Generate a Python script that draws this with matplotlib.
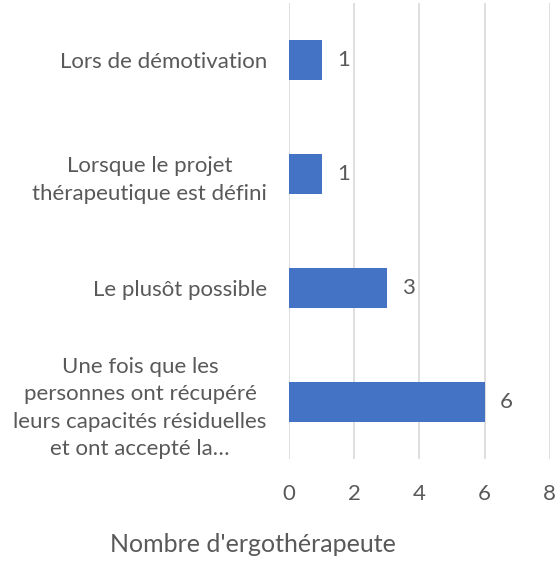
import matplotlib
matplotlib.use('Agg')

import matplotlib.pyplot as plt

categories = [
    "Une fois que les\npersonnes ont récupéré\nleurs capacités résiduelles\net ont accepté la…",
    "Le plusôt possible",
    "Lorsque le projet\nthérapeutique est défini",
    "Lors de démotivation",
]
values = [6, 3, 1, 1]
x_ticks = [0, 2, 4, 6, 8]

text_color = '#595959'
plt.rcParams['font.family'] = ['Lato', 'DejaVu Sans']

fig = plt.figure(figsize=(5.57, 5.83), dpi=100)
ax = fig.add_axes([0.519, 0.212, 0.468, 0.783])

pos = list(range(len(categories)))
ax.barh(pos, values, height=0.35, color='#4472C4', zorder=3)
for p, v in zip(pos, values):
    ax.annotate(str(v), (v, p), xytext=(11, 0), textcoords='offset points',
                va='center', ha='left', fontsize=16, color=text_color)

ax.set_xlim(0, 8)
ax.set_ylim(-0.5, len(categories) - 0.5)
ax.set_xticks(x_ticks)
ax.set_yticks(pos)
ax.set_yticklabels(categories, linespacing=1.47)
ax.tick_params(axis='both', length=0, labelsize=16, colors=text_color)
ax.tick_params(axis='x', pad=18)
ax.tick_params(axis='y', pad=16)
for lab in ax.get_yticklabels():
    lab.set_horizontalalignment('right')
    lab.set_multialignment('center')
ax.grid(axis='x', color='#d9d9d9', linewidth=1.2, zorder=0)
for s in ax.spines.values():
    s.set_visible(False)

fig.text(0.455, 1 - 545 / 583, "Nombre d'ergothérapeute", fontsize=18,
         color=text_color, ha='center', va='center')

plt.savefig("out.png", dpi=100)
